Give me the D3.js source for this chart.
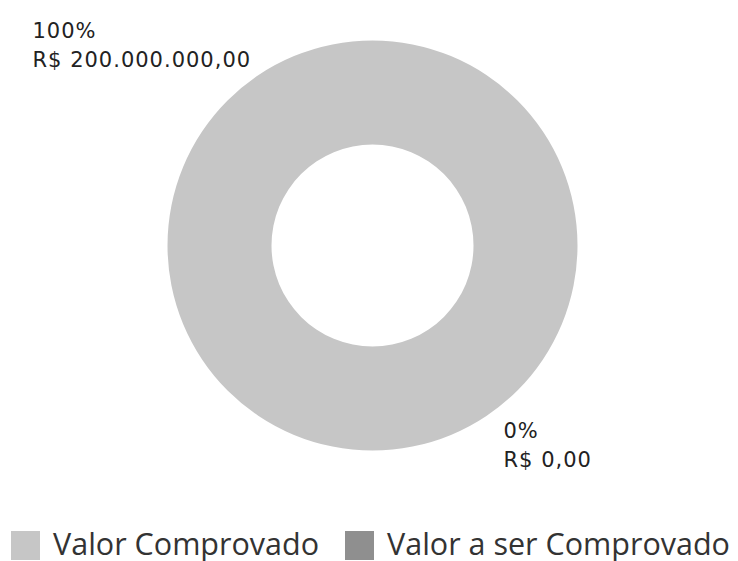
<!DOCTYPE html>
<html>
<head>
<meta charset="utf-8">
<script src="https://cdn.jsdelivr.net/npm/d3@7"></script>
<style>
    body { margin: 0; background: #fff; }
    .slice-label { font-family: "DejaVu Sans", sans-serif; font-size: 21px; letter-spacing: 1px; fill: #222; }
    .legend-text { font-family: "Open Sans", sans-serif; font-size: 30.5px; fill: #333; }
</style>
</head>
<body>
<svg id="chart" width="738" height="561"></svg>
<script>
// valores do gráfico
let categories = ["Valor Comprovado", "Valor a ser Comprovado"];
let values = [200000000, 0];
let colors = ["#c6c6c6", "#8f8f8f"];

let width = 738, height = 561;
let cx = 372.5, cy = 245.5, outerR = 205, innerR = 101;

let br = d3.formatLocale({decimal: ",", thousands: ".", grouping: [3], currency: ["R$ ", ""]});
let money = br.format("$,.2f");
let pct = d3.format(".0%");

let svg = d3.select("#chart");
let total = d3.sum(values);

let pie = d3.pie().sort(null).value(d => d);
let arc = d3.arc().innerRadius(innerR).outerRadius(outerR);

let g = svg.append("g").attr("transform", "translate(" + cx + "," + cy + ")");
g.selectAll("path").data(pie(values)).join("path")
    .attr("d", arc)
    .attr("fill", (d, i) => colors[i]);

// rótulos: primeiro no canto superior esquerdo, segundo no canto inferior direito
let labelPos = [[-340, -207.5], [131, 192]];
let labels = svg.selectAll(".slice-label").data(values).join("text")
    .classed("slice-label", true)
    .attr("transform", (d, i) => "translate(" + (cx + labelPos[i][0]) + "," + (cy + labelPos[i][1]) + ")");
labels.append("tspan").attr("x", 0).attr("dy", 0).text(d => pct(total ? d / total : 0));
labels.append("tspan").attr("x", 0).attr("dy", 29).text(d => money(d));

// legenda
let legendX = [11, 345];
let leg = svg.selectAll(".legend").data(categories).join("g")
    .classed("legend", true)
    .attr("transform", (d, i) => "translate(" + legendX[i] + ",531)");
leg.append("rect").attr("width", 29).attr("height", 29).attr("fill", (d, i) => colors[i]);
leg.append("text").classed("legend-text", true).attr("x", 42).attr("y", 24).text(d => d);
</script>
</body>
</html>
